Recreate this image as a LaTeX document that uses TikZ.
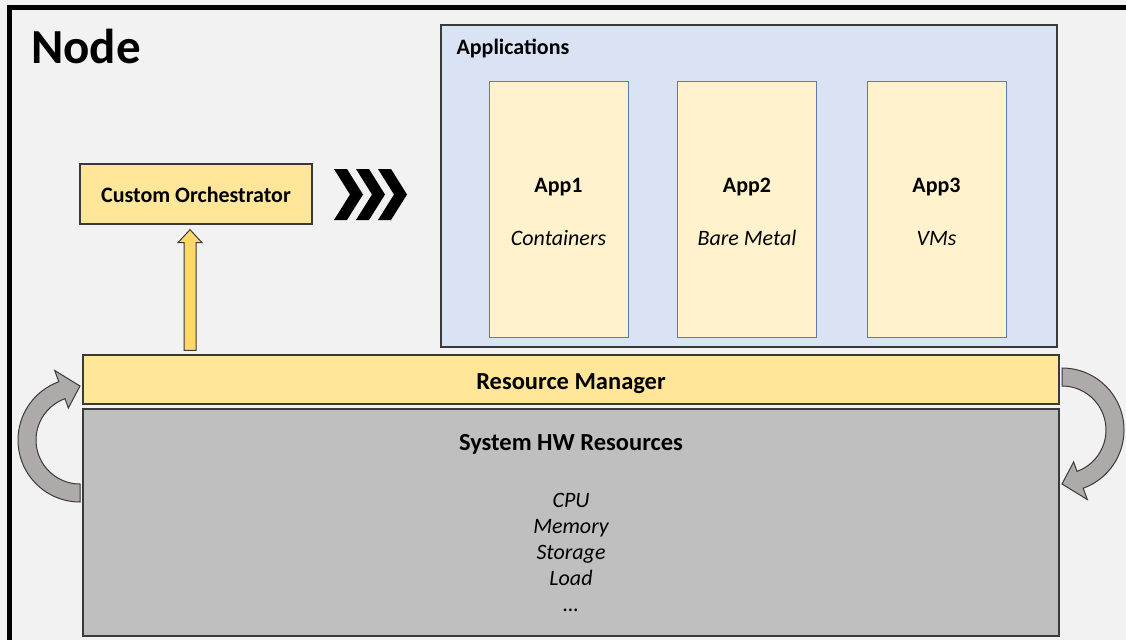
\documentclass[tikz,border=0pt]{standalone}
\usepackage{fontspec}
\setmainfont{Carlito}
\usepackage{tikz}
\usetikzlibrary{calc}
\definecolor{bgcol}{HTML}{F2F2F2}
\definecolor{edgecol}{HTML}{3A3A3A}
\definecolor{appsblue}{HTML}{DAE3F3}
\definecolor{appcream}{HTML}{FFF2CC}
\definecolor{appedge}{HTML}{5B7BB5}
\definecolor{boxyellow}{HTML}{FFE699}
\definecolor{arrowyellow}{HTML}{FFD966}
\definecolor{hwgrey}{HTML}{BFBFBF}
\definecolor{curvegrey}{HTML}{AEAAAA}
\tikzset{
  box/.style={draw=edgecol, line width=1.3pt, inner sep=0pt},
  appbox/.style={draw=appedge, line width=1pt, fill=appcream, minimum width=139, minimum height=256, inner sep=0pt},
  title/.style={inner sep=0pt, text height=17.5pt, text depth=0pt, font=\fontsize{22}{26}\selectfont\bfseries},
  bigtitle/.style={inner sep=0pt, text height=19pt, text depth=0pt, font=\fontsize{24.5}{29}\selectfont\bfseries},
  item/.style={inner sep=0pt, text height=17.5pt, text depth=0pt, font=\fontsize{22}{26}\selectfont\itshape},
  curved/.style={draw=edgecol, line width=1pt, fill=curvegrey},
}

\begin{document}
\begin{tikzpicture}[x=1pt, y=-1pt]
		%%%%% START %%%%%
		\useasboundingbox (0, 0) rectangle (1126, 640);
		\fill[bgcol] (0, 0) rectangle (1126, 640);
		\draw[line width=5pt] (9, 640) -- (9, 7) -- (1126, 7);
		
		\node[inner sep=0pt, anchor=base west, font=\fontsize{49}{58}\selectfont\bfseries] (nodetitle) at (31, 63) {Node};
		
		% applications
		\node[box, fill=appsblue, minimum width=616, minimum height=322] (apps) at (749, 186) {};
		\node[title, anchor=west] (appstitle) at ($(apps.north west)+(16, 21)$) {Applications};
		\node[appbox] (app1) at (558.5, 209) {};
		\node[appbox] (app2) at (747, 209) {};
		\node[appbox] (app3) at (936.5, 209) {};
		\node[title] (app1name) at ($(app1.north)+(0, 103)$) {App1};
		\node[item] (app1kind) at ($(app1.north)+(0, 156)$) {Containers};
		\node[title] (app2name) at ($(app2.north)+(0, 103)$) {App2};
		\node[item] (app2kind) at ($(app2.north)+(0, 156)$) {Bare Metal};
		\node[title] (app3name) at ($(app3.north)+(0, 103)$) {App3};
		\node[item] (app3kind) at ($(app3.north)+(0, 156)$) {VMs};
		
		% orchestrator
		\node[box, fill=boxyellow, minimum width=232, minimum height=60, title] (orch) at (196, 194) {Custom Orchestrator};
		\foreach \dx in {0, 22, 44}
			\fill ($(334, 169)+(\dx, 0)$) -- ++(13, 0) -- ++(16, 25.5) -- ++(-16, 25.5) -- ++(-13, 0) -- ++(16, -25.5) -- cycle;
		
		% resource manager and hardware
		\node[box, fill=boxyellow, minimum width=976, minimum height=49, bigtitle] (rm) at (571, 379.5) {Resource Manager};
		\node[box, fill=hwgrey, minimum width=976, minimum height=227] (hw) at (571, 522.5) {};
		\node[bigtitle] (hwtitle) at ($(hw.north)+(0, 33)$) {System HW Resources};
		\foreach \txt [count=\i] in {CPU, Memory, Storage, Load, \dots}
			\node[item] (hwitem\i) at ($(hwtitle)+(0, 31+26*\i)$) {\txt};
		
		% up arrow
		\coordinate (uptip) at ($(orch.south)+(-6, 5)$);
		\coordinate (upfoot) at (uptip |- rm.north);
		\draw[draw=edgecol, line width=1pt, fill=arrowyellow] ($(upfoot)+(-6, -4)$) -- ($(uptip)+(-6, 13)$) -- ($(uptip)+(-12, 13)$) -- (uptip)
			-- ($(uptip)+(12, 13)$) -- ($(uptip)+(6, 13)$) -- ($(upfoot)+(6, -4)$) -- cycle;
		
		% curved arrows
		\coordinate (lc) at (80, 440);
		\draw[curved] ($(lc)+(90:62)$) arc[start angle=90, end angle=250, radius=62] -- ($(lc)+(250:74)$) -- ($(lc)+(270:54)$)
			-- ($(lc)+(250:34)$) -- ($(lc)+(250:44)$) arc[start angle=250, end angle=90, radius=44] -- cycle;
		\coordinate (rc) at (1062, 430);
		\draw[curved] ($(rc)+(-90:62)$) arc[start angle=-90, end angle=70, radius=62] -- ($(rc)+(70:74)$) -- ($(rc)+(90:54)$)
			-- ($(rc)+(70:34)$) -- ($(rc)+(70:44)$) arc[start angle=70, end angle=-90, radius=44] -- cycle;
		%%%%% END %%%%%
\end{tikzpicture}
\end{document}
